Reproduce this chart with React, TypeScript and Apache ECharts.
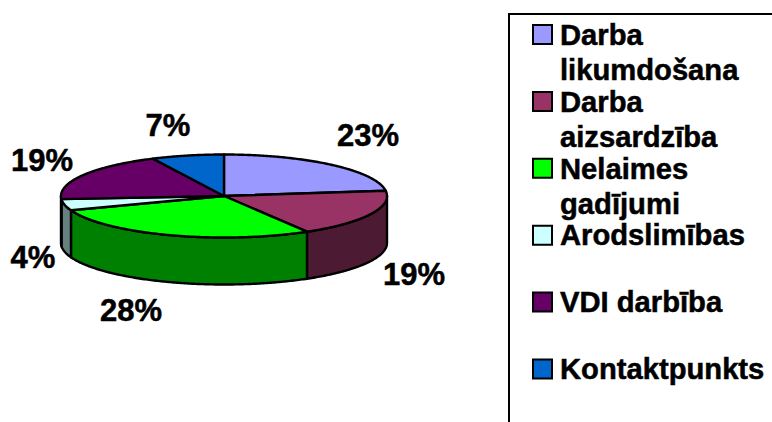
import React, { useEffect, useRef } from "react";
import * as echarts from "echarts";

const categories = ["Darba\nlikumdošana", "Darba\naizsardzība", "Nelaimes\ngadījumi", "Arodslimības", "VDI darbība", "Kontaktpunkts"];
const shares = [23, 18.5, 27.9, 4.4, 19, 7.2];
const topColors = ["#9999FF", "#993366", "#00FF00", "#CCFFFF", "#660066", "#0066CC"];
const wallColors = ["#4D4D80", "#4D1A33", "#008000", "#668080", "#330033", "#003366"];

const CX = 224, CY = 196, RX = 163, RY = 41.5, DEPTH = 47;
const FONT = "'Liberation Sans', Arial, sans-serif";
const labelAnchors = [[368, 135], [414, 274], [131, 310], [33, 257], [42, 160], [168, 125]];

const total = shares.reduce((a, b) => a + b, 0);
const startAngle = (i: number) => (shares.slice(0, i).reduce((a, b) => a + b, 0) / total) * 360;
const rim = (deg: number, dy = 0) => {
  const r = (deg * Math.PI) / 180;
  return [CX + RX * Math.sin(r), CY - RY * Math.cos(r) + dy];
};
const arc = (a: number, b: number, dy = 0) => {
  const n = Math.max(2, Math.ceil((b - a) * 1.5));
  const out: number[][] = [];
  for (let k = 0; k <= n; k++) out.push(rim(a + ((b - a) * k) / n, dy));
  return out;
};

function renderWall(params: any) {
  const i = params.dataIndex;
  const a = Math.max(startAngle(i), 90);
  const b = Math.min(startAngle(i + 1), 270);
  if (b <= a) return { type: "group", children: [] };
  const points = [...arc(a, b), ...arc(a, b, DEPTH).reverse()];
  return {
    type: "polygon",
    shape: { points },
    style: { fill: wallColors[i], stroke: "#000", lineWidth: 2.4, lineJoin: "round" },
  };
}

function renderTop(params: any) {
  const i = params.dataIndex;
  const points = [[CX, CY], ...arc(startAngle(i), startAngle(i + 1))];
  return {
    type: "polygon",
    shape: { points },
    style: { fill: topColors[i], stroke: "#000", lineWidth: 2.4, lineJoin: "round" },
  };
}

function buildGraphic() {
  const els: any[] = [
    { type: "rect", shape: { x: 509, y: 14, width: 400, height: 600 }, style: { fill: "#fff", stroke: "#000", lineWidth: 2 }, z: 1 },
  ];
  const text = { fontWeight: "bold", fontFamily: FONT, fill: "#000", stroke: "#000", lineWidth: 0.5 };
  categories.forEach((name, i) => {
    els.push({
      type: "rect",
      shape: { x: 533, y: 25 + i * 66.9, width: 19, height: 19 },
      style: { fill: topColors[i], stroke: "#000", lineWidth: 2 },
      z: 2,
    });
    els.push({
      type: "text",
      x: 560,
      y: 17.5 + i * 66.8,
      z: 2,
      style: { ...text, fontSize: 29.2, text: name, lineHeight: 35, align: "left", verticalAlign: "top" },
    });
  });
  shares.forEach((v, i) => {
    els.push({
      type: "text",
      x: labelAnchors[i][0],
      y: labelAnchors[i][1],
      z: 2,
      style: { ...text, fontSize: 31, text: `${Math.round(v)}%`, align: "center", verticalAlign: "middle" },
    });
  });
  return els;
}

export default function App() {
  const ref = useRef<HTMLDivElement>(null);
  useEffect(() => {
    const chart = echarts.init(ref.current!, null, { renderer: "svg" });
    chart.setOption({
      animation: false,
      backgroundColor: "#fff",
      graphic: { elements: buildGraphic() },
      series: [
        { type: "custom", coordinateSystem: "none", renderItem: renderWall, data: shares, z: 3, silent: true },
        { type: "custom", coordinateSystem: "none", renderItem: renderTop, data: shares, z: 4, silent: true },
      ],
    });
    return () => chart.dispose();
  }, []);
  return <div ref={ref} style={{ position: "fixed", left: 0, top: 0, width: 772, height: 422, overflow: "hidden" }} />;
}
